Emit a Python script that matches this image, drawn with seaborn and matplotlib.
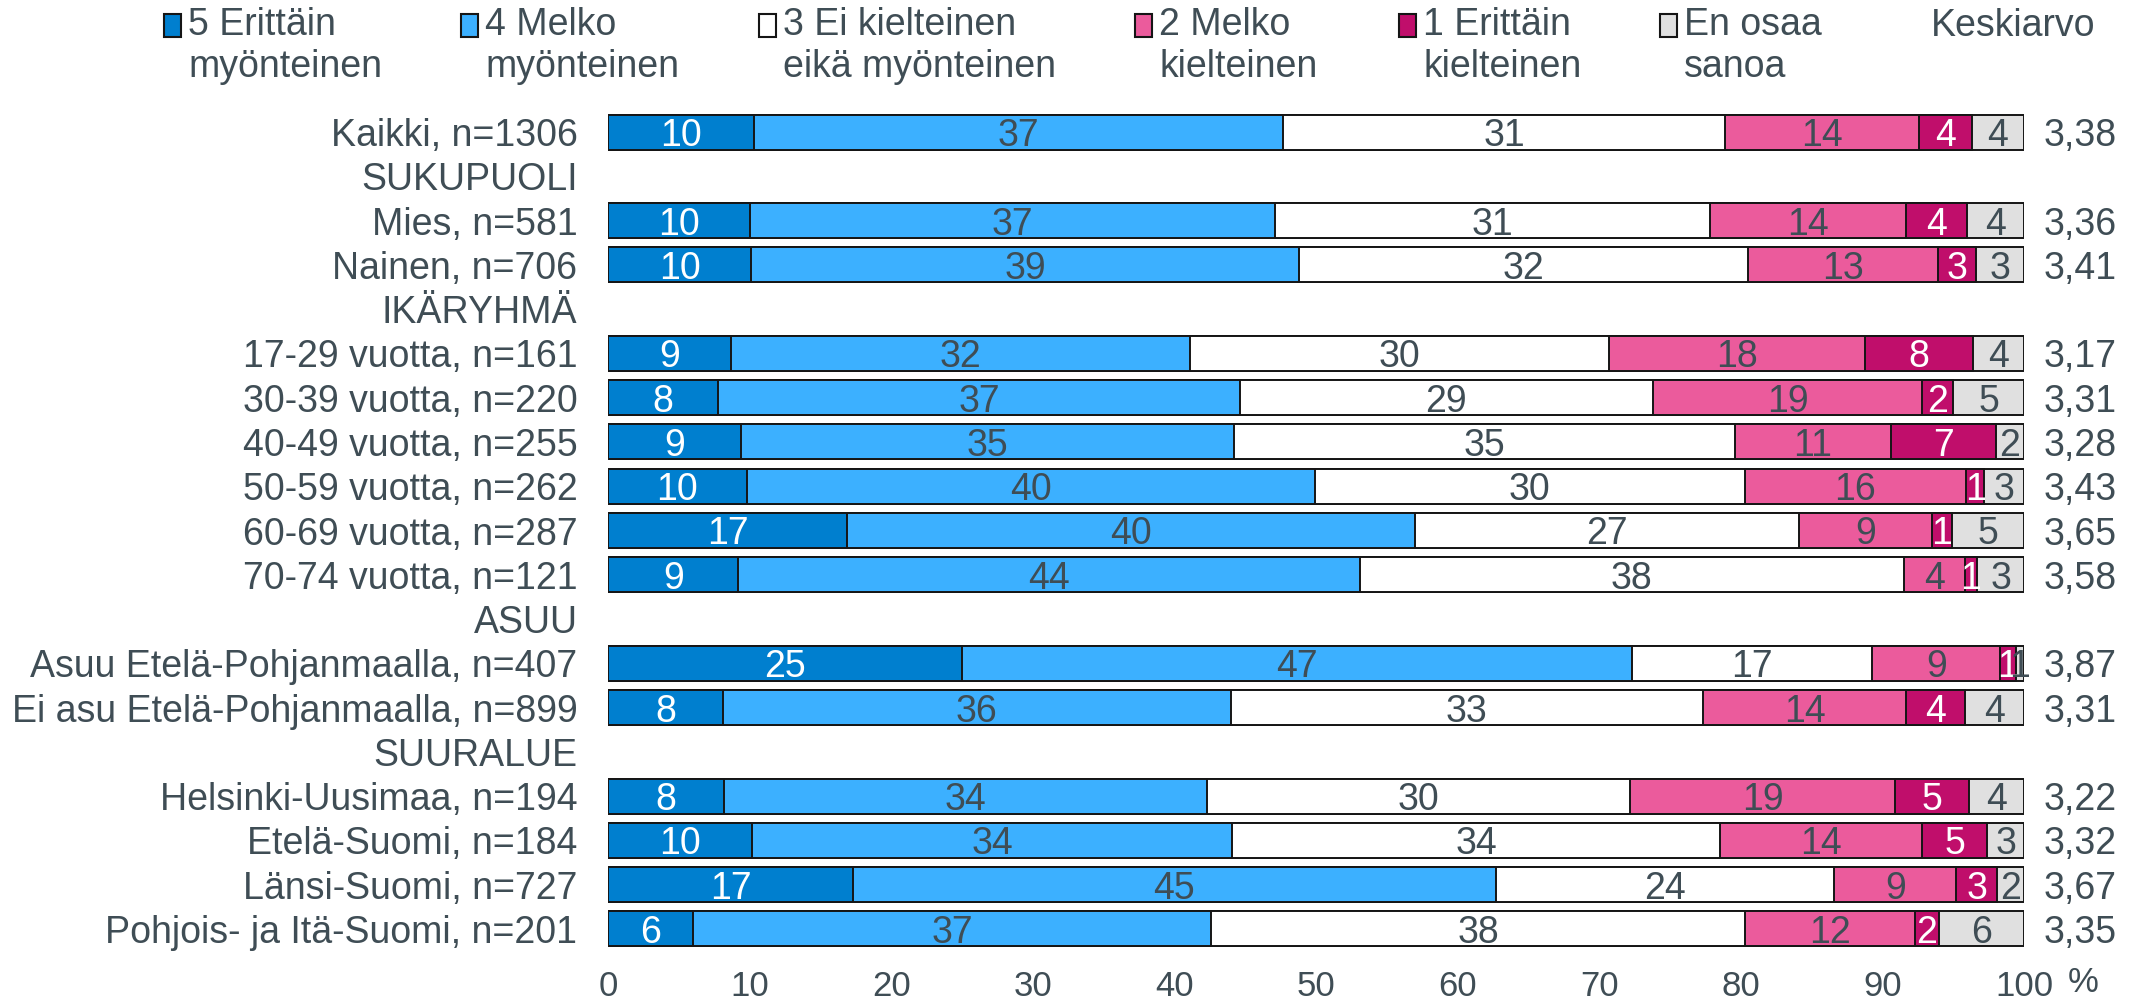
import numpy as np
import pandas as pd
import matplotlib
matplotlib.use("Agg")
import matplotlib.pyplot as plt
import seaborn as sns
from matplotlib.patches import Rectangle

nan = np.nan

rows = ["Kaikki, n=1306", "SUKUPUOLI", "Mies, n=581", "Nainen, n=706", "IKÄRYHMÄ",
        "17-29 vuotta, n=161", "30-39 vuotta, n=220", "40-49 vuotta, n=255",
        "50-59 vuotta, n=262", "60-69 vuotta, n=287", "70-74 vuotta, n=121", "ASUU",
        "Asuu Etelä-Pohjanmaalla, n=407", "Ei asu Etelä-Pohjanmaalla, n=899", "SUURALUE",
        "Helsinki-Uusimaa, n=194", "Etelä-Suomi, n=184", "Länsi-Suomi, n=727",
        "Pohjois- ja Itä-Suomi, n=201"]

v5 = [10.3, nan, 10.0, 10.1, nan, 8.7, 7.8, 9.4, 9.8, 16.9, 9.2, nan, 25.0, 8.1, nan, 8.2, 10.2, 17.3, 6.0]
v4 = [37.4, nan, 37.1, 38.7, nan, 32.4, 36.8, 34.8, 40.1, 40.1, 43.9, nan, 47.3, 35.9, nan, 34.1, 33.9, 45.4, 36.6]
v3 = [31.2, nan, 30.7, 31.7, nan, 29.6, 29.2, 35.4, 30.4, 27.1, 38.4, nan, 17.0, 33.3, nan, 29.9, 34.4, 23.9, 37.7]
v2 = [13.7, nan, 13.9, 13.4, nan, 18.1, 19.0, 11.0, 15.6, 9.4, 4.3, nan, 9.0, 14.4, nan, 18.7, 14.3, 8.6, 12.0]
v1 = [3.7, nan, 4.3, 2.7, nan, 7.6, 2.2, 7.4, 1.3, 1.4, 0.9, nan, 1.1, 4.1, nan, 5.2, 4.6, 2.9, 1.7]
veos = [3.7, nan, 4.0, 3.4, nan, 3.6, 5.0, 2.0, 2.8, 5.1, 3.3, nan, 0.6, 4.2, nan, 3.9, 2.6, 1.9, 6.0]
keskiarvo = [3.38, nan, 3.36, 3.41, nan, 3.17, 3.31, 3.28, 3.43, 3.65, 3.58, nan, 3.87, 3.31, nan,
             3.22, 3.32, 3.67, 3.35]

series = ["5 Erittäin\nmyönteinen", "4 Melko\nmyönteinen", "3 Ei kielteinen\neikä myönteinen",
          "2 Melko\nkielteinen", "1 Erittäin\nkielteinen", "En osaa\nsanoa"]
colors = ["#007fcf", "#3cb0ff", "#ffffff", "#eb5b9c", "#c00e6b", "#e0e0e0"]
label_colors = ["white", "#3f4d55", "#3f4d55", "#3f4d55", "white", "#3f4d55"]
ticks = [0, 10, 20, 30, 40, 50, 60, 70, 80, 90, 100]

txt = "#3f4d55"
sns.set_style("white")
plt.rcParams["font.family"] = ["Liberation Sans", "DejaVu Sans"]
fs = 27

df = pd.DataFrame({"rivi": rows, "s0": v5, "s1": v4, "s2": v3, "s3": v2, "s4": v1, "s5": veos})
vals = df[["s0", "s1", "s2", "s3", "s4", "s5"]].to_numpy()
cum = np.cumsum(vals, axis=1)
for k in range(6):
    df[f"c{k}"] = cum[:, k]

W, H = 2133, 1005
fig = plt.figure(figsize=(W / 100, H / 100), dpi=100)
ax = fig.add_axes([608 / W, 1 - 951 / H, 1416 / W, 841 / H])

for k in reversed(range(6)):
    sns.barplot(data=df, x=f"c{k}", y="rivi", order=rows, orient="h", color=colors[k],
                saturation=1, edgecolor="#151515", linewidth=1.4, width=0.79,
                errorbar=None, ax=ax)

# segment labels
for i in range(len(rows)):
    if np.isnan(vals[i, 0]):
        continue
    start = 0.0
    for k in range(6):
        v = vals[i, k]
        ax.text(start + v / 2, i, f"{v:.0f}", ha="center", va="center_baseline",
                fontsize=fs, color=label_colors[k])
        start += v
    ax.text(1.0135, i, f"{keskiarvo[i]:.2f}".replace(".", ","), transform=ax.get_yaxis_transform(),
            ha="left", va="center_baseline", fontsize=fs, color=txt)

ax.set_xlim(0, 100)
ax.set_ylim(len(rows) - 0.5, -0.5)
ax.set_xticks(ticks)
ax.set_xticklabels([str(t) for t in ticks])
ax.set_xlabel("")
ax.set_ylabel("")
ax.tick_params(axis="x", length=0, pad=14, labelsize=fs - 2, labelcolor=txt)
ax.tick_params(axis="y", length=0, pad=22, labelsize=fs, labelcolor=txt)
sns.despine(ax=ax, left=True, bottom=True)
fig.text(2083 / W, 1 - 982 / H, "%", ha="center", va="center", fontsize=fs - 2, color=txt)

# legend
marker_x = [164, 461, 759, 1135, 1399, 1660]
for k in range(6):
    fig.patches.append(Rectangle((marker_x[k] / W, 1 - 37 / H), 17 / W, 23 / H,
                                 transform=fig.transFigure, facecolor=colors[k],
                                 edgecolor="#151515", linewidth=1.5))
    fig.text((marker_x[k] + 24) / W, 1 - 46 / H, series[k], ha="left", va="center",
             fontsize=fs, color=txt, linespacing=1.18)
fig.text(1931 / W, 1 - 26 / H, "Keskiarvo", ha="left", va="center", fontsize=fs, color=txt)

fig.savefig("out.png", dpi=100, facecolor="white")
